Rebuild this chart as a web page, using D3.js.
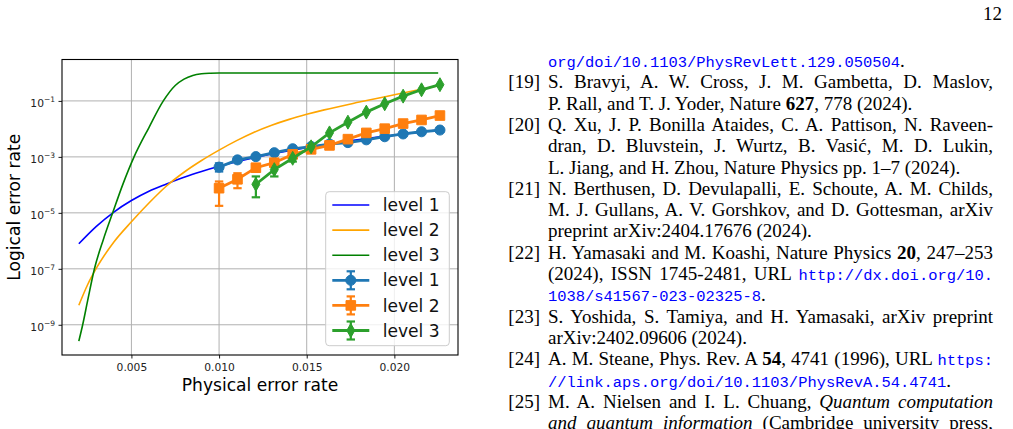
<!DOCTYPE html>
<html>
<head>
<meta charset="utf-8">
<script src="https://cdn.jsdelivr.net/npm/d3@7"></script>
<style>
  html, body { margin: 0; padding: 0; background: #fff; }
  svg { display: block; }
</style>
</head>
<body>
<div id="canvas"></div>
<script>
// ---- data ----
const physErr = [0.0100, 0.01105, 0.0121, 0.01315, 0.0142, 0.01525, 0.0163, 0.01735, 0.0184, 0.01945, 0.0205, 0.02155, 0.0226];
const simLevel1 = [4.3e-4, 7.8e-4, 1.02e-3, 1.41e-3, 1.95e-3, 2.34e-3, 2.88e-3, 3.24e-3, 4.07e-3, 5.25e-3, 6.6e-3, 7.9e-3, 9.1e-3];
const simLevel2 = [7.6e-5, 1.58e-4, 4.1e-4, 6.2e-4, 1.23e-3, 1.86e-3, 2.57e-3, 4.3e-3, 7.2e-3, 1.02e-2, 1.55e-2, 2.09e-2, 3.0e-2];
const simLevel3 = [null, null, 1.05e-4, 3.5e-4, 8.9e-4, 2.29e-3, 7.2e-3, 1.74e-2, 3.98e-2, 7.9e-2, 0.148, 0.25, 0.38];

// error bar ends (null = hidden under the marker)
const loLevel1 = [3.0e-4, 6.5e-4, 9.0e-4, null, null, null, null, null, null, null, null, null, null];
const hiLevel1 = [5.9e-4, 9.3e-4, 1.15e-3, null, null, null, null, null, null, null, null, null, null];
const loLevel2 = [1.78e-5, 7.6e-5, 3.2e-4, null, null, null, null, null, null, null, null, null, null];
const hiLevel2 = [1.32e-4, 2.6e-4, 5.1e-4, null, null, null, null, null, null, null, null, null, null];
const loLevel3 = [null, null, 3.6e-5, 2.0e-4, 6.8e-4, null, null, null, null, null, null, null, null];
const hiLevel3 = [null, null, 2.0e-4, 5.9e-4, 1.12e-3, null, null, null, null, null, null, null, null];

// theory curves
const theoryP1 = [0.002, 0.003, 0.004, 0.005, 0.006, 0.007, 0.008, 0.009, 0.010, 0.012, 0.014, 0.016, 0.018, 0.020, 0.0225];
const theoryLevel1 = [7.9e-7, 3.3e-6, 1.07e-5, 2.75e-5, 5.9e-5, 1.07e-4, 1.86e-4, 3.0e-4, 4.6e-4, 9.3e-4, 1.66e-3, 2.69e-3, 4.2e-3, 6.0e-3, 9.1e-3];
const theoryP2 = [0.002, 0.0025, 0.003, 0.004, 0.005, 0.006, 0.007, 0.008, 0.009, 0.010, 0.011, 0.012, 0.013, 0.014, 0.015, 0.016, 0.018, 0.020, 0.0225];
const theoryLevel2 = [5.0e-9, 2.7e-8, 1.05e-7, 9.1e-7, 4.8e-6, 2.24e-5, 9.1e-5, 2.82e-4, 7.4e-4, 1.74e-3, 3.8e-3, 7.6e-3, 1.35e-2, 2.19e-2, 3.31e-2, 4.79e-2, 9.1e-2, 0.166, 0.347];
const theoryP3 = [0.002, 0.00222, 0.0025, 0.00289, 0.0034, 0.00393, 0.0045, 0.00515, 0.006, 0.00682, 0.0075, 0.008, 0.0085, 0.009, 0.0095, 0.010, 0.012, 0.0225];
const theoryLevel3 = [2.6e-10, 1.0e-9, 7.1e-9, 1.0e-7, 1.12e-6, 1.0e-5, 1.0e-4, 1.0e-3, 1.12e-2, 0.1, 0.355, 0.60, 0.81, 0.93, 0.98, 1.0, 1.0, 1.0];

const xTicks = [0.005, 0.010, 0.015, 0.020];
const yTicks = [1e-9, 1e-7, 1e-5, 1e-3, 1e-1];
const legendLabels = ["level 1", "level 2", "level 3", "level 1", "level 2", "level 3"];

// reference column text
const refLines = [
  { label: "", justify: false, parts: [["url", "org/doi/10.1103/PhysRevLett.129.050504"], ["rm", "."]] },
  { label: "[19]", justify: true, parts: [["rm", "S. Bravyi, A. W. Cross, J. M. Gambetta, D. Maslov,"]] },
  { label: "", justify: false, parts: [["rm", "P. Rall, and T. J. Yoder, Nature "], ["bf", "627"], ["rm", ", 778 (2024)."]] },
  { label: "[20]", justify: true, parts: [["rm", "Q. Xu, J. P. Bonilla Ataides, C. A. Pattison, N. Raveen-"]] },
  { label: "", justify: true, parts: [["rm", "dran, D. Bluvstein, J. Wurtz, B. Vasić, M. D. Lukin,"]] },
  { label: "", justify: false, parts: [["rm", "L. Jiang, and H. Zhou, Nature Physics pp. 1–7 (2024)."]] },
  { label: "[21]", justify: true, parts: [["rm", "N. Berthusen, D. Devulapalli, E. Schoute, A. M. Childs,"]] },
  { label: "", justify: true, parts: [["rm", "M. J. Gullans, A. V. Gorshkov, and D. Gottesman, arXiv"]] },
  { label: "", justify: false, parts: [["rm", "preprint arXiv:2404.17676 (2024)."]] },
  { label: "[22]", justify: true, parts: [["rm", "H. Yamasaki and M. Koashi, Nature Physics "], ["bf", "20"], ["rm", ", 247–253"]] },
  { label: "", justify: true, parts: [["rm", "(2024), ISSN 1745-2481, URL "], ["url", "http://dx.doi.org/10."]] },
  { label: "", justify: false, parts: [["url", "1038/s41567-023-02325-8"], ["rm", "."]] },
  { label: "[23]", justify: true, parts: [["rm", "S. Yoshida, S. Tamiya, and H. Yamasaki, arXiv preprint"]] },
  { label: "", justify: false, parts: [["rm", "arXiv:2402.09606 (2024)."]] },
  { label: "[24]", justify: true, parts: [["rm", "A. M. Steane, Phys. Rev. A "], ["bf", "54"], ["rm", ", 4741 (1996), URL "], ["url", "https:"]] },
  { label: "", justify: false, parts: [["url", "//link.aps.org/doi/10.1103/PhysRevA.54.4741"], ["rm", "."]] },
  { label: "[25]", justify: true, parts: [["rm", "M. A. Nielsen and I. L. Chuang, "], ["it", "Quantum computation"]] },
  { label: "", justify: true, parts: [["it", "and quantum information"], ["rm", " (Cambridge university press,"]] }
];

// ---- layout ----
let pageW = 1013, pageH = 429;
let plot = { left: 62, right: 458, top: 59.5, bottom: 355 };

let svg = d3.select("#canvas")
  .append("svg")
  .attr("width", pageW)
  .attr("height", pageH);

let xScale = d3.scaleLinear().domain([0.00104, 0.02363]).range([plot.left, plot.right]);
let yScale = d3.scaleLog().domain([Math.pow(10, -10.08), Math.pow(10, 0.48)]).range([plot.bottom, plot.top]);

let chart = svg.append("g").attr("font-family", "DejaVu Sans");

// grid
chart.append("g").selectAll("line").data(xTicks).enter().append("line")
  .attr("x1", d => xScale(d)).attr("x2", d => xScale(d))
  .attr("y1", plot.top).attr("y2", plot.bottom)
  .attr("stroke", "#b0b0b0").attr("stroke-width", 1);
chart.append("g").selectAll("line").data(yTicks).enter().append("line")
  .attr("x1", plot.left).attr("x2", plot.right)
  .attr("y1", d => yScale(d)).attr("y2", d => yScale(d))
  .attr("stroke", "#b0b0b0").attr("stroke-width", 1);

// axes
let xAxis = chart.append("g")
  .attr("transform", "translate(0," + plot.bottom + ")")
  .call(d3.axisBottom(xScale).tickValues(xTicks).tickSize(3.5).tickPadding(4.8).tickFormat(d3.format(".3f")));
xAxis.attr("font-family", "DejaVu Sans").attr("font-size", 10.7);
xAxis.select(".domain").remove();
xAxis.selectAll(".tick line").attr("stroke", "#000").attr("stroke-width", 0.9);
xAxis.selectAll(".tick text").attr("fill", "#222");

let yAxis = chart.append("g")
  .attr("transform", "translate(" + plot.left + ",0)")
  .call(d3.axisLeft(yScale).tickValues(yTicks).tickSize(3.5).tickPadding(3.5).tickFormat(""));
yAxis.attr("font-family", "DejaVu Sans").attr("font-size", 10.7);
yAxis.select(".domain").remove();
yAxis.selectAll(".tick line").attr("stroke", "#000").attr("stroke-width", 0.9);
yAxis.selectAll(".tick text").each(function (d) {
  let t = d3.select(this).attr("dy", null).attr("y", 5.5).attr("fill", "#222").text("10");
  t.append("tspan").attr("font-size", 7.5).attr("dy", -4.8)
    .text("\u2212" + Math.abs(Math.round(Math.log10(d))));
});

// axis labels
chart.append("text")
  .attr("x", (plot.left + plot.right) / 2).attr("y", 390.8)
  .attr("text-anchor", "middle").attr("font-size", 17.1)
  .text("Physical error rate");
chart.append("text")
  .attr("transform", "translate(20.4," + (plot.top + plot.bottom) / 2 + ") rotate(-90)")
  .attr("text-anchor", "middle").attr("font-size", 17.1)
  .text("Logical error rate");

// theory curves
let theory = [
  { p: theoryP1, v: theoryLevel1, color: "blue" },
  { p: theoryP2, v: theoryLevel2, color: "orange" },
  { p: theoryP3, v: theoryLevel3, color: "green" }
];
let curve = d3.line()
  .x(d => xScale(d[0]))
  .y(d => yScale(d[1]))
  .curve(d3.curveMonotoneX);
chart.append("g").selectAll("path").data(theory).enter().append("path")
  .attr("d", d => curve(d.p.map((p, i) => [p, d.v[i]])))
  .attr("fill", "none")
  .attr("stroke", d => d.color)
  .attr("stroke-width", 1.6);

// simulated data with error bars
let sims = [
  { v: simLevel1, lo: loLevel1, hi: hiLevel1, color: "#1f77b4", symbol: d3.symbol(d3.symbolCircle, 80) },
  { v: simLevel2, lo: loLevel2, hi: hiLevel2, color: "#ff7f0e", symbol: d3.symbol(d3.symbolSquare, 92) },
  { v: simLevel3, lo: loLevel3, hi: hiLevel3, color: "#2ca02c", symbol: d3.symbol(d3.symbolDiamond, 56) }
];
let capHalf = 4.2;

sims.forEach(s => {
  let bars = physErr.map((p, i) => ({ p: p, lo: s.lo[i], hi: s.hi[i] })).filter(d => d.lo != null);
  let g = chart.append("g").attr("stroke", s.color).attr("stroke-width", 2.2);
  g.selectAll(".bar").data(bars).enter().append("line")
    .attr("x1", d => xScale(d.p)).attr("x2", d => xScale(d.p))
    .attr("y1", d => yScale(d.lo)).attr("y2", d => yScale(d.hi));
  g.selectAll(".capLo").data(bars).enter().append("line")
    .attr("x1", d => xScale(d.p) - capHalf).attr("x2", d => xScale(d.p) + capHalf)
    .attr("y1", d => yScale(d.lo)).attr("y2", d => yScale(d.lo));
  g.selectAll(".capHi").data(bars).enter().append("line")
    .attr("x1", d => xScale(d.p) - capHalf).attr("x2", d => xScale(d.p) + capHalf)
    .attr("y1", d => yScale(d.hi)).attr("y2", d => yScale(d.hi));
});

let simLine = d3.line()
  .defined(d => d[1] != null)
  .x(d => xScale(d[0]))
  .y(d => yScale(d[1]));

sims.forEach(s => {
  let pts = physErr.map((p, i) => [p, s.v[i]]);
  let g = chart.append("g");
  g.append("path")
    .attr("d", simLine(pts))
    .attr("fill", "none")
    .attr("stroke", s.color)
    .attr("stroke-width", 2.8);
  g.selectAll("path.marker").data(pts.filter(d => d[1] != null)).enter().append("path")
    .attr("class", "marker")
    .attr("transform", d => "translate(" + xScale(d[0]) + "," + yScale(d[1]) + ")")
    .attr("d", s.symbol())
    .attr("fill", s.color)
    .attr("stroke", s.color)
    .attr("stroke-width", 1);
});

// frame
chart.append("rect")
  .attr("x", plot.left).attr("y", plot.top)
  .attr("width", plot.right - plot.left).attr("height", plot.bottom - plot.top)
  .attr("fill", "none").attr("stroke", "#000").attr("stroke-width", 1.1);

// legend
let legend = chart.append("g").attr("transform", "translate(325.7,191.7)");
legend.append("rect")
  .attr("width", 123.6).attr("height", 154).attr("rx", 3.5)
  .attr("fill", "rgba(255,255,255,0.8)").attr("stroke", "#cccccc").attr("stroke-width", 1);

let entries = legend.selectAll(".entry")
  .data(legendLabels)
  .enter()
  .append("g")
  .attr("class", "entry")
  .attr("transform", (d, i) => "translate(0," + (13.3 + i * 25.1) + ")");

entries.each(function (d, i) {
  let e = d3.select(this);
  if (i < 3) {
    e.append("line").attr("x1", 6.6).attr("x2", 43.6)
      .attr("stroke", theory[i].color).attr("stroke-width", 1.6);
  } else {
    let s = sims[i - 3];
    let cx = 25.1;
    e.append("line").attr("x1", 6.6).attr("x2", 43.6)
      .attr("stroke", s.color).attr("stroke-width", 2.8);
    e.append("line").attr("x1", cx).attr("x2", cx).attr("y1", -9).attr("y2", 9)
      .attr("stroke", s.color).attr("stroke-width", 2.2);
    e.append("line").attr("x1", cx - capHalf).attr("x2", cx + capHalf).attr("y1", -9).attr("y2", -9)
      .attr("stroke", s.color).attr("stroke-width", 2.2);
    e.append("line").attr("x1", cx - capHalf).attr("x2", cx + capHalf).attr("y1", 9).attr("y2", 9)
      .attr("stroke", s.color).attr("stroke-width", 2.2);
    e.append("path").attr("transform", "translate(" + cx + ",0)")
      .attr("d", s.symbol()).attr("fill", s.color).attr("stroke", s.color).attr("stroke-width", 1);
  }
  e.append("text").attr("x", 57).attr("dy", "0.36em")
    .attr("font-size", 17.1).attr("fill", "#111").text(d);
});

// ---- page text (reference list) ----
let refs = svg.append("g").attr("font-family", "Liberation Serif").attr("font-size", 19);
let textLeft = 548, textRight = 993, labelRight = 540;

svg.append("text")
  .attr("x", 1002).attr("y", 19.5)
  .attr("text-anchor", "end")
  .attr("font-family", "Liberation Serif").attr("font-size", 19)
  .text("12");

refLines.forEach((ln, i) => {
  let y = 67 + i * 21.3;
  if (ln.label) {
    refs.append("text").attr("x", labelRight).attr("y", y)
      .attr("text-anchor", "end").text(ln.label);
  }
  let t = refs.append("text").attr("x", textLeft).attr("y", y).style("white-space", "pre");
  ln.parts.forEach(part => {
    let sp = t.append("tspan").text(part[1]);
    if (part[0] === "url") sp.attr("font-family", "Liberation Mono").attr("font-size", 15.45).attr("fill", "#0000ff");
    if (part[0] === "bf") sp.attr("font-weight", "bold");
    if (part[0] === "it") sp.attr("font-style", "italic");
  });
  // justified lines: stretch the word gaps to the column edge
  if (ln.justify) {
    let full = ln.parts.map(p => p[1]).join("");
    let gaps = (full.match(/ /g) || []).length;
    let w = t.node().getComputedTextLength();
    if (gaps > 0) t.style("word-spacing", ((textRight - textLeft - w) / gaps) + "px");
  }
});
</script>
</body>
</html>
